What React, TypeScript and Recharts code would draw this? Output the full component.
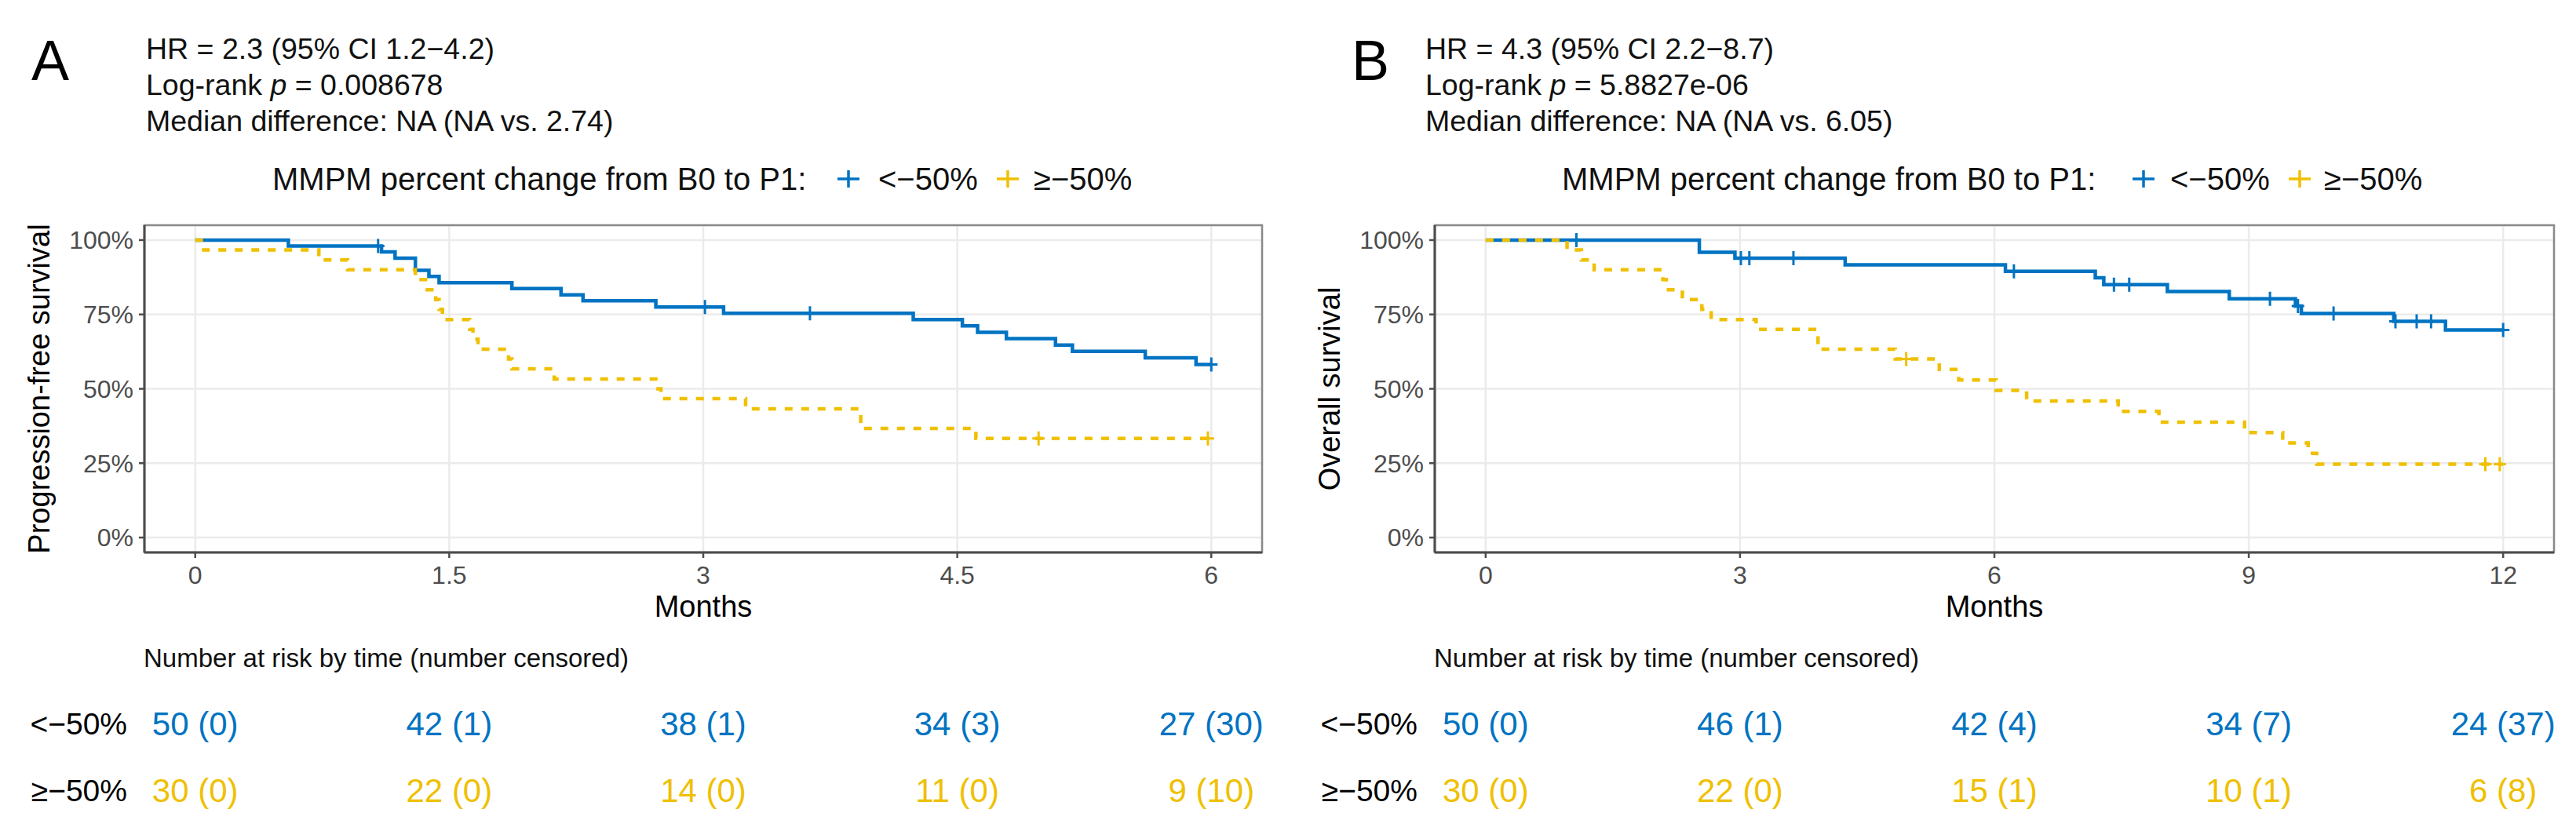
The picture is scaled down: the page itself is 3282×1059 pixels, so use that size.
import React from 'react';
import {
  LineChart,
  Line,
  XAxis,
  YAxis,
  CartesianGrid,
  ReferenceArea,
  ScatterChart,
  Scatter,
} from 'recharts';

const BLUE = '#0073C2';
const YELLOW = '#EFC000';
const FONT = '"Liberation Sans", Arial, Helvetica, sans-serif';

// ---------- data ----------
const groups = ['<\u221250%', '\u2265\u221250%'];
const legendTitle = 'MMPM percent change from B0 to P1:';

type Pt = [number, number, number]; // [months, survival, censored flag]

// Panel A: progression-free survival
const pfsLow: Pt[] = [
  [0, 1, 0], [0.55, 0.98, 0], [1.08, 0.98, 1], [1.1, 0.96, 0], [1.18, 0.939, 0],
  [1.3, 0.898, 0], [1.38, 0.878, 0], [1.44, 0.857, 0], [1.87, 0.837, 0], [2.16, 0.816, 0],
  [2.29, 0.796, 0], [2.72, 0.775, 0], [3.01, 0.775, 1], [3.12, 0.754, 0], [3.63, 0.754, 1],
  [4.24, 0.733, 0], [4.53, 0.712, 0], [4.62, 0.69, 0], [4.79, 0.669, 0], [5.08, 0.647, 0],
  [5.18, 0.626, 0], [5.61, 0.604, 0], [5.91, 0.582, 0], [6.0, 0.582, 1],
];
const pfsHigh: Pt[] = [
  [0, 1, 0], [0.05, 0.967, 0], [0.73, 0.933, 0], [0.9, 0.9, 0], [1.3, 0.867, 0],
  [1.37, 0.833, 0], [1.42, 0.8, 0], [1.44, 0.767, 0], [1.46, 0.733, 0], [1.62, 0.7, 0],
  [1.64, 0.667, 0], [1.67, 0.633, 0], [1.85, 0.6, 0], [1.87, 0.567, 0], [2.12, 0.533, 0],
  [2.72, 0.5, 0], [2.75, 0.467, 0], [3.25, 0.433, 0], [3.93, 0.367, 0], [4.61, 0.333, 0],
  [4.98, 0.333, 1], [5.98, 0.333, 1],
];

// Panel B: overall survival
const osLow: Pt[] = [
  [0, 1, 0], [1.07, 1, 1], [2.52, 0.959, 0], [2.94, 0.939, 0], [3.01, 0.939, 1],
  [3.11, 0.939, 1], [3.63, 0.939, 1], [4.24, 0.917, 0], [6.13, 0.895, 0], [6.23, 0.895, 1],
  [7.19, 0.873, 0], [7.29, 0.85, 0], [7.41, 0.85, 1], [7.59, 0.85, 1], [8.04, 0.827, 0],
  [8.77, 0.803, 0], [9.25, 0.803, 1], [9.55, 0.778, 0], [9.58, 0.778, 1], [9.62, 0.753, 0],
  [10.0, 0.753, 1], [10.71, 0.727, 0], [10.73, 0.727, 1], [10.98, 0.727, 1], [11.15, 0.727, 1],
  [11.32, 0.698, 0], [12.0, 0.698, 1],
];
const osHigh: Pt[] = [
  [0, 1, 0], [0.96, 0.967, 0], [1.13, 0.933, 0], [1.28, 0.9, 0], [2.09, 0.867, 0],
  [2.13, 0.833, 0], [2.32, 0.8, 0], [2.55, 0.767, 0], [2.66, 0.733, 0], [3.19, 0.7, 0],
  [3.92, 0.633, 0], [4.83, 0.6, 0], [4.96, 0.6, 1], [5.35, 0.565, 0], [5.58, 0.53, 0],
  [6.02, 0.495, 0], [6.38, 0.459, 0], [7.46, 0.424, 0], [7.94, 0.388, 0], [8.95, 0.353, 0],
  [9.4, 0.318, 0], [9.7, 0.283, 0], [9.8, 0.247, 0], [11.79, 0.247, 1], [11.96, 0.247, 1],
  [12.0, 0.247, 0],
];

const yTicks = [0, 0.25, 0.5, 0.75, 1];
const xTicksA = [0, 1.5, 3, 4.5, 6];
const xTicksB = [0, 3, 6, 9, 12];

const riskLowA = ['50 (0)', '42 (1)', '38 (1)', '34 (3)', '27 (30)'];
const riskHighA = ['30 (0)', '22 (0)', '14 (0)', '11 (0)', '9 (10)'];
const riskLowB = ['50 (0)', '46 (1)', '42 (4)', '34 (7)', '24 (37)'];
const riskHighB = ['30 (0)', '22 (0)', '15 (1)', '10 (1)', '6 (8)'];

const headerA = ['HR = 2.3 (95% CI 1.2\u22124.2)', '0.008678', 'Median difference: NA (NA vs. 2.74)'];
const headerB = ['HR = 4.3 (95% CI 2.2\u22128.7)', '5.8827e-06', 'Median difference: NA (NA vs. 6.05)'];

// ---------- helpers ----------
const toRows = (pts: Pt[]) => pts.map(([t, s, c]) => ({ t, s, c }));

const censorDot = (color: string) => (props: any) => {
  const { cx, cy, payload, index } = props;
  if (!payload || !payload.c || cx == null || cy == null) return <g key={`n-${index}`} />;
  return (
    <path
      key={`c-${index}`}
      d={`M${cx - 8},${cy}H${cx + 8}M${cx},${cy - 9}V${cy + 9}`}
      stroke={color}
      strokeWidth={3}
      fill="none"
    />
  );
};

const riskText = (color: string) => (props: any) => {
  const { cx, cy, payload } = props;
  return (
    <text
      x={cx}
      y={cy}
      dy="0.36em"
      textAnchor="middle"
      fill={color}
      fontSize={42}
      fontFamily={FONT}
    >
      {payload.label}
    </text>
  );
};

function KMChart(props: {
  width: number;
  right: number;
  xDomain: [number, number];
  xTicks: number[];
  yTitle: string;
  low: Pt[];
  high: Pt[];
}) {
  const { width, right, xDomain, xTicks, yTitle, low, high } = props;
  return (
    <LineChart width={width} height={800} margin={{ top: 287, right, bottom: 6, left: 0 }}>
      <CartesianGrid stroke="#EBEBEB" strokeWidth={2.5} />
      <ReferenceArea
        x1={xDomain[0]}
        x2={xDomain[1]}
        y1={-0.05}
        y2={1.05}
        fill="none"
        fillOpacity={0}
        stroke="#8a8a8a"
        strokeWidth={2.5}
        ifOverflow="visible"
      />
      <XAxis
        type="number"
        dataKey="t"
        domain={xDomain}
        ticks={xTicks}
        allowDataOverflow
        height={90}
        tickSize={7}
        tickMargin={10}
        axisLine={{ stroke: '#4d4d4d', strokeWidth: 3 }}
        tickLine={{ stroke: '#4d4d4d', strokeWidth: 2.5 }}
        tick={{ fill: '#4D4D4D', fontSize: 32, fontFamily: FONT }}
        label={{ value: 'Months', position: 'insideBottom', offset: 8, fill: '#000', fontSize: 38, fontFamily: FONT }}
      />
      <YAxis
        type="number"
        domain={[-0.05, 1.05]}
        ticks={yTicks}
        allowDataOverflow
        width={184}
        tickSize={7}
        tickMargin={7}
        tickFormatter={(v: number) => `${Math.round(v * 100)}%`}
        axisLine={{ stroke: '#4d4d4d', strokeWidth: 3 }}
        tickLine={{ stroke: '#4d4d4d', strokeWidth: 2.5 }}
        tick={{ fill: '#4D4D4D', fontSize: 32, fontFamily: FONT }}
        label={{
          value: yTitle,
          angle: -90,
          position: 'insideLeft',
          offset: 50,
          textAnchor: 'middle',
          fill: '#000',
          fontSize: 38,
          fontFamily: FONT,
          style: { textAnchor: 'middle' },
        }}
      />
      <Line
        data={toRows(low)}
        dataKey="s"
        type="stepAfter"
        stroke={BLUE}
        strokeWidth={4.5}
        dot={censorDot(BLUE)}
        activeDot={false}
        legendType="none"
        isAnimationActive={false}
      />
      <Line
        data={toRows(high)}
        dataKey="s"
        type="stepAfter"
        stroke={YELLOW}
        strokeWidth={4.5}
        strokeDasharray="10 11"
        dot={censorDot(YELLOW)}
        activeDot={false}
        legendType="none"
        isAnimationActive={false}
      />
    </LineChart>
  );
}

function RiskChart(props: {
  width: number;
  right: number;
  xDomain: [number, number];
  times: number[];
  lowLabels: string[];
  highLabels: string[];
}) {
  const { width, right, xDomain, times, lowLabels, highLabels } = props;
  const lowData = times.map((t, i) => ({ t, y: 1, label: lowLabels[i] }));
  const highData = times.map((t, i) => ({ t, y: 0, label: highLabels[i] }));
  return (
    <ScatterChart width={width} height={170} margin={{ top: 42, right, bottom: 43, left: 0 }}>
      <XAxis type="number" dataKey="t" domain={xDomain} allowDataOverflow hide />
      <YAxis
        type="number"
        dataKey="y"
        domain={[0, 1]}
        ticks={[0, 1]}
        width={184}
        axisLine={false}
        tickLine={false}
        tickSize={0}
        tickMargin={22}
        tickFormatter={(v: number) => (v === 1 ? groups[0] : groups[1])}
        tick={{ fill: '#000', fontSize: 39, fontFamily: FONT }}
      />
      <Scatter data={lowData} dataKey="y" shape={riskText(BLUE)} isAnimationActive={false} />
      <Scatter data={highData} dataKey="y" shape={riskText(YELLOW)} isAnimationActive={false} />
    </ScatterChart>
  );
}

function Plus({ x, y, color }: { x: number; y: number; color: string }) {
  return <path d={`M${x - 14},${y}H${x + 14}M${x},${y - 11}V${y + 11}`} stroke={color} strokeWidth={3.5} fill="none" />;
}

function Overlay() {
  const hdr = (x: number, lines: string[]) => (
    <g fontSize={37.5} fill="#111">
      <text x={x} y={75}>{lines[0]}</text>
      <text x={x} y={121}>
        Log-rank <tspan fontStyle="italic">p</tspan> = {lines[1]}
      </text>
      <text x={x} y={167}>{lines[2]}</text>
    </g>
  );
  const legend = (tx: number, k1: number, l1: number, k2: number, l2: number) => (
    <g fontSize={40} fill="#111">
      <text x={tx} y={242}>{legendTitle}</text>
      <Plus x={k1} y={228} color={BLUE} />
      <text x={l1} y={242}>{groups[0]}</text>
      <Plus x={k2} y={228} color={YELLOW} />
      <text x={l2} y={242}>{groups[1]}</text>
    </g>
  );
  return (
    <svg
      width={3282}
      height={1059}
      style={{ position: 'absolute', left: 0, top: 0, pointerEvents: 'none' }}
      fontFamily={FONT}
    >
      <text x={40} y={102} fontSize={72} fill="#000">A</text>
      <text x={1722} y={102} fontSize={72} fill="#000">B</text>
      {hdr(186, headerA)}
      {hdr(1816, headerB)}
      {legend(347, 1081, 1119, 1284, 1317)}
      {legend(1990, 2731, 2765, 2930, 2961)}
      <text x={183} y={850} fontSize={33} fill="#111">Number at risk by time (number censored)</text>
      <text x={1827} y={850} fontSize={33} fill="#111">Number at risk by time (number censored)</text>
    </svg>
  );
}

export default function App() {
  return (
    <div
      style={{
        position: 'absolute',
        left: 0,
        top: 0,
        width: 3282,
        height: 1059,
        background: '#fff',
        fontFamily: FONT,
        overflow: 'hidden',
      }}
    >
      <div style={{ position: 'absolute', left: 0, top: 0 }}>
        <KMChart width={1640} right={32} xDomain={[-0.3, 6.3]} xTicks={xTicksA} yTitle="Progression-free survival" low={pfsLow} high={pfsHigh} />
      </div>
      <div style={{ position: 'absolute', left: 1644, top: 0 }}>
        <KMChart width={1638} right={28} xDomain={[-0.6, 12.6]} xTicks={xTicksB} yTitle="Overall survival" low={osLow} high={osHigh} />
      </div>
      <div style={{ position: 'absolute', left: 0, top: 880 }}>
        <RiskChart width={1640} right={32} xDomain={[-0.3, 6.3]} times={xTicksA} lowLabels={riskLowA} highLabels={riskHighA} />
      </div>
      <div style={{ position: 'absolute', left: 1644, top: 880 }}>
        <RiskChart width={1638} right={28} xDomain={[-0.6, 12.6]} times={xTicksB} lowLabels={riskLowB} highLabels={riskHighB} />
      </div>
      <Overlay />
    </div>
  );
}
